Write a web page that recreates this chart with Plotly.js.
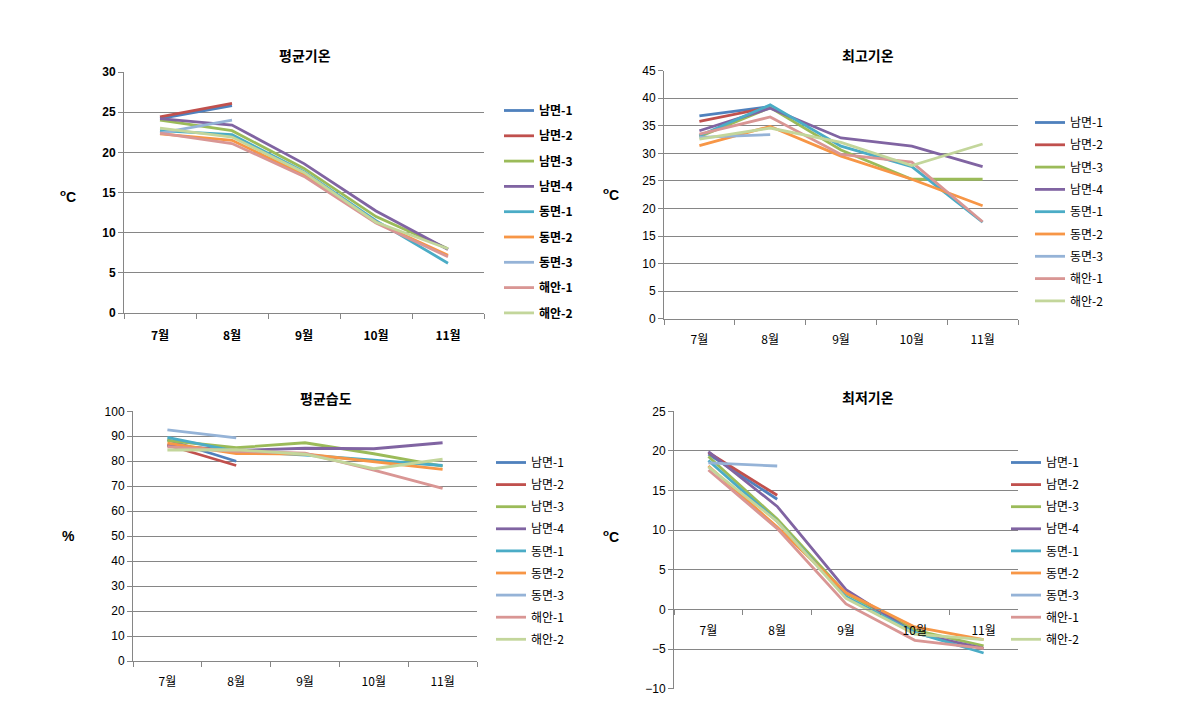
<!DOCTYPE html>
<html>
<head>
<meta charset="utf-8">
<script src="https://cdn.plot.ly/plotly-3.0.1.min.js"></script>
<style>html,body{margin:0;padding:0;background:#fff;}#chart{width:1177px;height:712px;}</style>
</head>
<body>
<div id="chart"></div>
<script>
// ---------- data ----------
const months = ['7월', '8월', '9월', '10월', '11월'];
const stations = ['남면-1', '남면-2', '남면-3', '남면-4', '동면-1', '동면-2', '동면-3', '해안-1', '해안-2'];
const colors = ['#4F81BD', '#C0504D', '#9BBB59', '#8064A2', '#4BACC6', '#F79646', '#95B3D7', '#D99694', '#C3D69B'];

// 평균기온 (°C), one row per station
const avgTemp = [
  [24.2, 25.8, null, null, null],
  [24.4, 26.1, null, null, null],
  [24.0, 22.7, 18.0, 12.0, 8.0],
  [24.2, 23.4, 18.6, 12.7, 7.9],
  [22.7, 22.2, 17.6, 11.5, 6.2],
  [22.3, 21.5, 17.2, 11.3, 7.2],
  [22.4, 24.0, null, null, null],
  [22.4, 21.1, 17.0, 11.2, 7.0],
  [23.0, 21.9, 17.5, 11.3, 8.0]
];
// 최고기온 (°C)
const maxTemp = [
  [36.8, 38.5, null, null, null],
  [35.8, 38.4, null, null, null],
  [33.0, 38.3, 30.6, 25.3, 25.3],
  [34.1, 38.2, 32.8, 31.3, 27.6],
  [33.2, 38.8, 31.3, 27.6, 17.5],
  [31.4, 34.9, 29.5, 25.3, 20.5],
  [32.9, 33.4, null, null, null],
  [33.5, 36.6, 29.8, 28.4, 17.6],
  [32.6, 34.6, 32.0, 27.8, 31.7]
];
// 평균습도 (%)
const avgHum = [
  [88.6, 80.0, null, null, null],
  [86.5, 78.3, null, null, null],
  [88.3, 85.4, 87.4, 83.0, 78.0],
  [86.3, 84.3, 85.2, 85.0, 87.4],
  [89.6, 84.0, 82.5, 80.5, 78.3],
  [87.3, 83.1, 82.9, 79.8, 76.7],
  [92.6, 89.4, null, null, null],
  [85.8, 84.0, 83.2, 76.4, 69.1],
  [84.5, 84.6, 82.8, 77.0, 80.8]
];
// 최저기온 (°C)
const minTemp = [
  [19.6, 13.9, null, null, null],
  [19.8, 14.4, null, null, null],
  [19.3, 11.4, 2.0, -2.6, -4.6],
  [19.9, 13.0, 2.5, -3.0, -4.9],
  [18.8, 11.1, 1.6, -2.9, -5.5],
  [18.1, 10.4, 2.1, -2.2, -3.8],
  [18.5, 18.1, null, null, null],
  [17.6, 10.2, 0.7, -3.9, -4.9],
  [18.0, 11.1, 1.4, -3.1, -3.8]
];

// ---------- layout helpers ----------
const W = 1177, H = 712;
const px = v => v / W;
const py = v => 1 - v / H;
const grid = '#868686';
const fontR = 'Liberation Sans, Arial, Noto Sans CJK KR, sans-serif';
const fontK = 'Noto Sans CJK KR, Liberation Sans, sans-serif';

const panels = [
  {data: avgTemp, title: '평균기온', unit: '<sup>o</sup>C', box: [124, 484, 72, 313], range: [0, 30], dtick: 5, bold: true,
   leg: [499, 96, 6.3], unitPos: [68, 196], titlePos: [305, 55]},
  {data: maxTemp, title: '최고기온', unit: '<sup>o</sup>C', box: [664, 1018, 70.7, 318.7], range: [0, 45], dtick: 5, bold: false,
   leg: [1030, 108, 3.3], unitPos: [611, 194], titlePos: [868, 55]},
  {data: avgHum, title: '평균습도', unit: '%', box: [133, 477, 411.3, 661], range: [0, 100], dtick: 10, bold: false,
   leg: [491, 448, 3.1], unitPos: [68, 536], titlePos: [326, 398]},
  {data: minTemp, title: '최저기온', unit: '<sup>o</sup>C', box: [674, 1018, 411.3, 688.7], range: [-10, 25], dtick: 5, bold: false,
   leg: [1006, 448, 3.1], unitPos: [611, 536], titlePos: [868, 397]}
];

const traces = [];
const layout = {
  width: W, height: H,
  margin: {l: 0, r: 0, t: 0, b: 0},
  paper_bgcolor: '#fff', plot_bgcolor: '#fff',
  showlegend: true,
  annotations: []
};

panels.forEach((p, i) => {
  const n = i + 1;
  const xa = 'xaxis' + (n === 1 ? '' : n);
  const ya = 'yaxis' + (n === 1 ? '' : n);
  const xr = 'x' + (n === 1 ? '' : n);
  const yr = 'y' + (n === 1 ? '' : n);
  const lg = 'legend' + (n === 1 ? '' : n);
  const tickFont = p.bold
    ? {family: fontK, size: 12, color: '#000', weight: 'bold'}
    : {family: fontK, size: 12, color: '#000'};

  stations.forEach((s, k) => {
    traces.push({
      type: 'scatter', mode: 'lines',
      x: months, y: p.data[k], name: s,
      xaxis: xr, yaxis: yr, legend: lg, legendgroup: 'g' + n + '_' + k,
      line: {color: colors[k], width: 2.8},
      connectgaps: false, hoverinfo: 'skip'
    });
  });

  const ydom = [py(p.box[3]), py(p.box[2])];
  layout[ya] = {
    domain: ydom, anchor: xr, range: p.range, dtick: p.dtick, tick0: 0,
    showgrid: true, gridcolor: grid, gridwidth: 1,
    zeroline: false, showline: true, linecolor: grid, linewidth: 1,
    ticks: 'outside', ticklen: 5, tickcolor: grid,
    tickfont: {family: fontR, size: 12, color: '#000', weight: p.bold ? 'bold' : 'normal'},
    fixedrange: true
  };
  const xaObj = {
    domain: [px(p.box[0]), px(p.box[1])], type: 'category',
    categoryorder: 'array', categoryarray: months, range: [-0.5, 4.5],
    tickson: 'boundaries', ticks: 'outside', ticklen: 5, tickcolor: grid,
    showgrid: false, zeroline: false, showline: true, linecolor: grid, linewidth: 1,
    tickfont: tickFont, ticklabelstandoff: p.bold ? 12 : 10, fixedrange: true
  };
  if (n === 4) {
    // category axis crosses the value axis at 0
    const frac = (0 - p.range[0]) / (p.range[1] - p.range[0]);
    xaObj.anchor = 'free';
    xaObj.position = ydom[0] + frac * (ydom[1] - ydom[0]);
  } else {
    xaObj.anchor = yr;
  }
  layout[xa] = xaObj;

  layout[lg] = {
    x: px(p.leg[0]), y: py(p.leg[1]), xanchor: 'left', yanchor: 'top',
    bgcolor: 'rgba(0,0,0,0)', borderwidth: 0, tracegroupgap: p.leg[2],
    itemwidth: 30,
    font: p.bold ? {family: fontK, size: 12, color: '#000', weight: 'bold'}
                 : {family: fontK, size: 12, color: '#000'}
  };

  layout.annotations.push({
    text: p.title, xref: 'paper', yref: 'paper',
    x: px(p.titlePos[0]), y: py(p.titlePos[1]), xanchor: 'center', yanchor: 'middle',
    showarrow: false, font: {family: fontK, size: 14, color: '#000', weight: 'bold'}
  });
  layout.annotations.push({
    text: p.unit, xref: 'paper', yref: 'paper',
    x: px(p.unitPos[0]), y: py(p.unitPos[1]), xanchor: 'center', yanchor: 'middle',
    showarrow: false, font: {family: fontR, size: 14, color: '#000', weight: 'bold'}
  });
});

Plotly.newPlot('chart', traces, layout, {displayModeBar: false, staticPlot: true});
</script>
</body>
</html>
